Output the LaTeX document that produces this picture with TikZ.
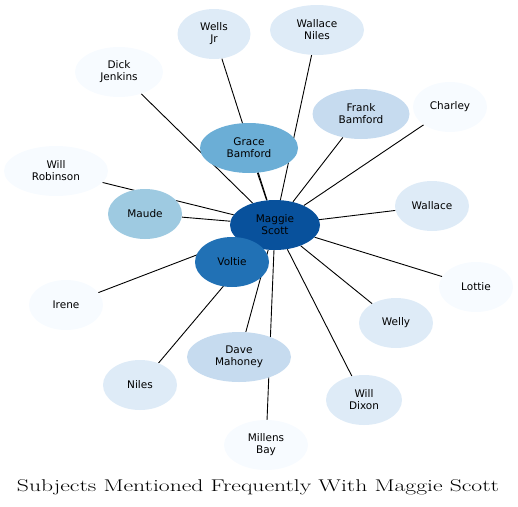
\documentclass[tikz,border=0pt]{standalone}
\usepackage{graphicx}
\usepackage{fontspec}
\newfontfamily\nodefont{DejaVu Sans}
\usetikzlibrary{shapes.geometric}
\pgfdeclarelayer{background}
\pgfsetlayers{background,main}
\definecolor{cA}{HTML}{08519C}
\definecolor{cB}{HTML}{2171B5}
\definecolor{cC}{HTML}{6BAED6}
\definecolor{cD}{HTML}{9ECAE1}
\definecolor{cE}{HTML}{C6DBEF}
\definecolor{cF}{HTML}{DEEBF7}
\definecolor{cG}{HTML}{F7FBFF}
\tikzset{
  person/.style={ellipse, inner sep=0pt, minimum height=50pt, minimum width=74pt,
    align=center, font=\nodefont\fontsize{10.5}{12}\selectfont, text=black, draw=none},
  link/.style={draw=black, line width=0.9pt}
}
\begin{document}
\begin{tikzpicture}[x=1pt, y=-1pt]
\useasboundingbox (0,0) rectangle (518,506);
\node[person, fill=cA, minimum width=90pt] (maggie) at (275,225) {Maggie\\Scott};
\node[person, fill=cC, minimum width=98pt] (grace) at (249,148) {Grace\\Bamford};
\node[person, fill=cD] (maude) at (145,214) {Maude};
\node[person, fill=cE, minimum width=97pt] (frank) at (361,114) {Frank\\Bamford};
\node[person, fill=cE, minimum width=104pt] (dave) at (239,357) {Dave\\Mahoney};
\node[person, fill=cF, minimum width=73pt] (wellsjr) at (214,34) {Wells\\Jr};
\node[person, fill=cF, minimum width=94pt] (wniles) at (317,30) {Wallace\\Niles};
\node[person, fill=cG, minimum width=88pt] (dick) at (119,72) {Dick\\Jenkins};
\node[person, fill=cG] (charley) at (450,107) {Charley};
\node[person, fill=cG, minimum width=104pt] (willr) at (56,171) {Will\\Robinson};
\node[person, fill=cF] (wallace) at (432,206) {Wallace};
\node[person, fill=cG] (lottie) at (476,287) {Lottie};
\node[person, fill=cF] (welly) at (396,323) {Welly};
\node[person, fill=cG] (irene) at (66,305) {Irene};
\node[person, fill=cF] (niles) at (140,385) {Niles};
\node[person, fill=cF, minimum width=76pt] (willd) at (364,400) {Will\\Dixon};
\node[person, fill=cG, minimum width=84pt] (millens) at (266,445) {Millens\\Bay};
\node[person, fill=cB] (voltie) at (232,262) {Voltie};
\node[font=\fontsize{17}{19}\selectfont, inner sep=0pt, anchor=base] (title) at (258,491) {\scalebox{1.39}[1]{Subjects Mentioned Frequently With Maggie Scott}};
\begin{pgfonlayer}{background}
\foreach \t in {grace,maude,frank,dave,wellsjr,wniles,dick,charley,willr,wallace,lottie,welly,irene,niles,willd,millens,voltie}
  \draw[link] (maggie) -- (\t);
\end{pgfonlayer}
\end{tikzpicture}
\end{document}
